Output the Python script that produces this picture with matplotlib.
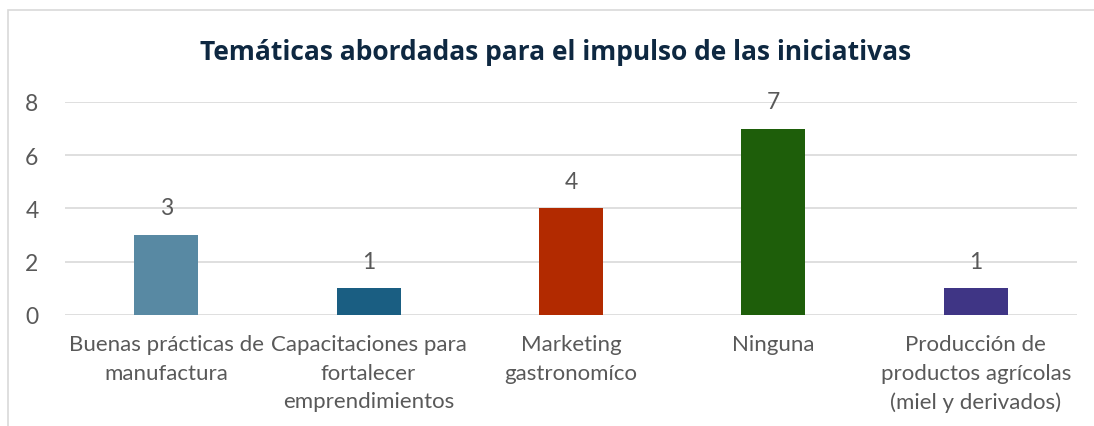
import matplotlib
matplotlib.use('Agg')
import matplotlib.pyplot as plt
from matplotlib.patches import Rectangle

# ── Data ──────────────────────────────────────────────────────────────────────
categories = ['Buenas prácticas de\nmanufactura',
              'Capacitaciones para\nfortalecer\nemprendimientos',
              'Marketing\ngastronomíco',
              'Ninguna',
              'Producción de\nproductos agrícolas\n(miel y derivados)']
values = [3, 1, 4, 7, 1]
colors = ['#5889A3', '#1A5E82', '#B22A00', '#1E5E0A', '#3F3585']
yticks = [0, 2, 4, 6, 8]

C_TEXT = '#595959'
C_GRID = '#D9D9D9'
C_TITLE = '#0E2841'

fig = plt.figure(figsize=(10.94, 4.27), dpi=100)
fig.patch.set_facecolor('white')
ax = fig.add_axes([65/1094, 0.26, (1077-65)/1094, 0.4988])

x = range(len(categories))
bars = ax.bar(x, values, width=0.316, color=colors, zorder=3)
for b, v in zip(bars, values):
    ax.text(b.get_x() + b.get_width()/2, v + 1.02, str(v), ha='center', va='center',
            fontsize=16.5, color=C_TEXT, family='Lato', zorder=4)

ax.set_xlim(-0.5, len(categories) - 0.5)
ax.set_ylim(0, 8)
ax.set_yticks(yticks)
ax.set_yticklabels([str(t) for t in yticks], fontsize=16.5, color=C_TEXT, family='Lato')
ax.set_xticks(list(x))
ax.set_xticklabels(categories, fontsize=16, color=C_TEXT, family='Lato', linespacing=1.52, va='top')
ax.tick_params(axis='both', length=0)
ax.tick_params(axis='x', pad=14)
ax.tick_params(axis='y', pad=19)
ax.grid(axis='y', color=C_GRID, lw=1.2, zorder=0)
for s in ax.spines.values():
    s.set_visible(False)

fig.text(556/1094, 1 - 53/427, 'Temáticas abordadas para el impulso de las iniciativas',
         ha='center', va='center', fontsize=19, fontweight='bold', color=C_TITLE, family='Open Sans')

# chart border
fig.patches.append(Rectangle((8/1094, -0.05), 1.2, 1 - 11/427 + 0.05, transform=fig.transFigure,
                             facecolor='none', edgecolor=C_GRID, lw=1.2, zorder=0))

plt.savefig('out.png', dpi=100, facecolor='white')
plt.close()
